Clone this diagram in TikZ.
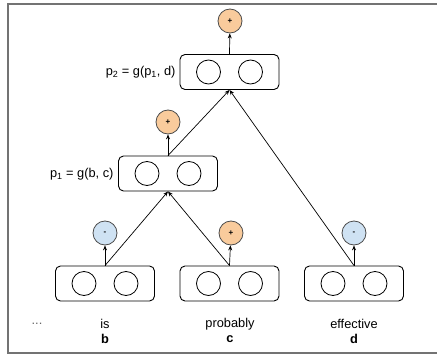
\documentclass[tikz,border=0pt]{standalone}
\usepackage{fontspec}
\setmainfont{Liberation Sans}
\usetikzlibrary{arrows.meta}
\definecolor{posfill}{HTML}{F9CB9C}
\definecolor{negfill}{HTML}{CFE2F3}
\definecolor{framegray}{rgb}{0.45,0.45,0.45}

\tikzset{
  unit/.style={draw,rounded corners=5pt,minimum width=99pt,minimum height=35pt,line width=0.9pt},
  neuron/.style={draw,circle,minimum size=24pt,inner sep=0pt,line width=0.8pt},
  senti/.style={draw=black!70,circle,minimum size=24pt,inner sep=0pt,line width=0.8pt,font=\fontsize{8}{8}\selectfont\bfseries},
  possenti/.style={senti,fill=posfill},
  negsenti/.style={senti,fill=negfill},
  word/.style={font=\fontsize{12.8}{15}\selectfont},
  conn/.style={-{Stealth[length=5pt,width=4pt]},line width=0.7pt}
}

\begin{document}
\begin{tikzpicture}[x=1pt,y=-1pt]
    \useasboundingbox (0,0) rectangle (437,356);
    \draw[framegray,line width=2pt]
      (440,4) -- (7.5,4) -- (7.5,352.5) -- (440,352.5);

    % units
    \node[unit] (p2) at (229.5,72) {};
    \node[unit] (p1) at (168,173.5) {};
    \node[unit] (b) at (105,283.5) {};
    \node[unit] (c) at (229.5,283.5) {};
    \node[unit] (d) at (354,283.5) {};

    \foreach \u in {p2,p1,b,c,d} {
      \node[neuron] (\u l) at ([xshift=-21pt]\u.center) {};
      \node[neuron] (\u r) at ([xshift=21pt]\u.center) {};
    }

    % sentiment
    \node[possenti] (sp2) at (230,21) {+};
    \node[possenti] (sp1) at (168,122) {+};
    \node[negsenti] (sb) at (105,233) {-};
    \node[possenti] (sc) at (231,233) {+};
    \node[negsenti] (sd) at (354,233) {-};

    \draw[conn] (p2.north) -- (sp2);
    \draw[conn] (p1.north) -- (sp1);
    \draw[conn] (b.north) -- (sb);
    \draw[conn] (c.north) -- (sc);
    \draw[conn] (d.north) -- (sd);

    \draw[conn] (b.north) -- (p1.south);
    \draw[conn] (c.north) -- (p1.south);
    \draw[conn] (p1.north) -- (p2.south);
    \draw[conn] (d.north) -- (p2.south);

    % labels
    \node[word,anchor=east] (lp2) at (179,72) {p\textsubscript{2} = g(p\textsubscript{1}, d)};
    \node[word,anchor=east] (lp1) at (117,174) {p\textsubscript{1} = g(b, c)};

    \node[word,text=black!60] (dots) at (37,324) {...};
    \node[word] (wb) at (105,324) {is};
    \node[word] (wc) at (230,324) {probably};
    \node[word] (wd) at (354,324) {effective};
    \node[word,font=\fontsize{12.8}{15}\selectfont\bfseries] (lb) at (105,339) {b};
    \node[word,font=\fontsize{12.8}{15}\selectfont\bfseries] (lc) at (230,339) {c};
    \node[word,font=\fontsize{12.8}{15}\selectfont\bfseries] (ld) at (354,339) {d};
  \end{tikzpicture}
\end{document}
